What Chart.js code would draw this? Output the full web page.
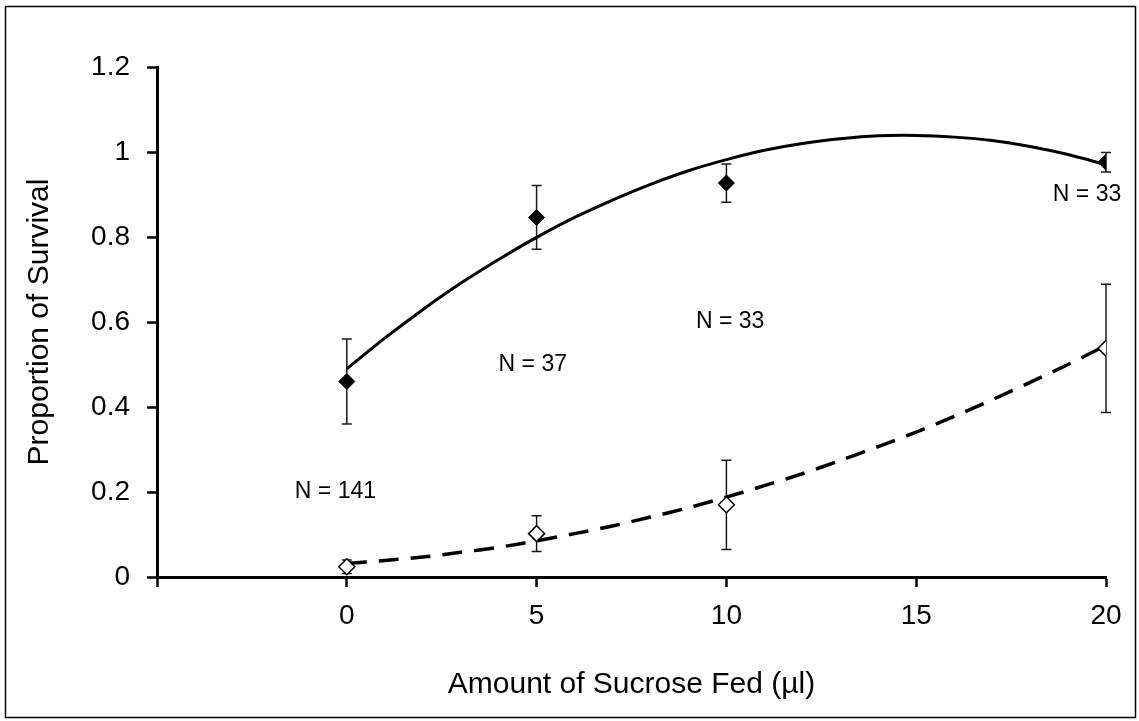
<!DOCTYPE html>
<html>
<head>
<meta charset="utf-8">
<title>Proportion of Survival</title>
<script src="https://cdn.jsdelivr.net/npm/chart.js@4"></script>
<style>
  html, body { margin: 0; padding: 0; background: #fff; }
  #wrap { width: 1139px; height: 721px; }
</style>
</head>
<body>
<div id="wrap"><canvas id="survivalChart" width="1139" height="721"></canvas></div>
<script>
// sucrose doses (µl) and survival per group
const doses = [0, 5, 10, 20];
const fedSurvival = [0.46, 0.846, 0.927, 0.976];
const fedError = [0.1, 0.075, 0.045, 0.023];
const starvedSurvival = [0.024, 0.102, 0.17, 0.538];
const starvedError = [0.016, 0.042, 0.105, 0.151];

// polynomial trendlines, sampled every 1 µl
const trendX = [0, 1, 2, 3, 4, 5, 6, 7, 8, 9, 10, 11, 12, 13, 14, 15, 16, 17, 18, 19, 20];
const fedTrend = [0.49, 0.562, 0.629, 0.691, 0.747, 0.799, 0.846, 0.887, 0.924, 0.956, 0.982,
                  1.004, 1.02, 1.031, 1.038, 1.039, 1.035, 1.027, 1.013, 0.994, 0.97];
const starvedTrend = [0.032, 0.039, 0.047, 0.058, 0.07, 0.085, 0.102, 0.12, 0.141, 0.163, 0.188,
                      0.215, 0.243, 0.274, 0.307, 0.341, 0.378, 0.417, 0.458, 0.5, 0.545];

const sampleSizes = ['N = 141', 'N = 37', 'N = 33', 'N = 33'];

const xTitle = 'Amount of Sucrose Fed (µl)';
const yTitle = 'Proportion of Survival';

const toPoints = (xs, ys) => xs.map((x, i) => ({ x: x, y: ys[i] }));

// where the N labels sit, in axis units
const sampleSpots = [[-0.3, 0.2], [4.9, 0.5], [10.1, 0.6], [19.5, 0.9]];

const errorBars = {
    id: 'errorBars',
    beforeDatasetsDraw(chart) {
        const { ctx, scales: { x, y } } = chart;
        ctx.save();
        ctx.strokeStyle = '#1a1a1a';
        ctx.lineWidth = 1.5;
        [[fedSurvival, fedError], [starvedSurvival, starvedError]].forEach(([vals, errs]) => {
            vals.forEach((v, i) => {
                const px = x.getPixelForValue(doses[i]);
                const top = y.getPixelForValue(v + errs[i]);
                const bottom = y.getPixelForValue(v - errs[i]);
                ctx.beginPath();
                ctx.moveTo(px, top);
                ctx.lineTo(px, bottom);
                ctx.moveTo(px - 5, top);
                ctx.lineTo(px + 5, top);
                ctx.moveTo(px - 5, bottom);
                ctx.lineTo(px + 5, bottom);
                ctx.stroke();
            });
        });
        ctx.restore();
    }
};

const extras = {
    id: 'extras',
    afterDraw(chart) {
        const { ctx, scales: { x, y } } = chart;
        ctx.save();
        ctx.fillStyle = '#000';
        ctx.font = "23px 'Liberation Sans', Arial, sans-serif";
        ctx.textAlign = 'center';
        ctx.textBaseline = 'middle';
        sampleSizes.forEach((text, i) => {
            ctx.fillText(text, x.getPixelForValue(sampleSpots[i][0]), y.getPixelForValue(sampleSpots[i][1]));
        });
        // frame round the whole figure
        ctx.strokeStyle = '#000';
        ctx.lineWidth = 1.5;
        ctx.strokeRect(5.5, 6.5, 1130, 711);
        ctx.restore();
    }
};

Chart.defaults.font.family = "'Liberation Sans', Arial, sans-serif";
Chart.defaults.color = '#000';

new Chart(document.getElementById('survivalChart'), {
    type: 'scatter',
    data: {
        datasets: [
            {
                data: toPoints(doses, fedSurvival),
                pointStyle: 'rectRot',
                pointRadius: 8,
                backgroundColor: '#000',
                borderColor: '#000',
                borderWidth: 1
            },
            {
                data: toPoints(doses, starvedSurvival),
                pointStyle: 'rectRot',
                pointRadius: 8,
                backgroundColor: '#fff',
                borderColor: '#000',
                borderWidth: 1.5
            },
            {
                data: toPoints(trendX, fedTrend),
                showLine: true,
                pointRadius: 0,
                borderColor: '#000',
                borderWidth: 3,
                tension: 0.3
            },
            {
                data: toPoints(trendX, starvedTrend),
                showLine: true,
                pointRadius: 0,
                borderColor: '#000',
                borderWidth: 3.5,
                borderDash: [20, 12],
                tension: 0.3
            }
        ]
    },
    options: {
        responsive: false,
        animation: false,
        layout: { padding: { top: 67, right: 33, bottom: 0, left: 0 } },
        plugins: {
            legend: { display: false },
            tooltip: { enabled: false }
        },
        scales: {
            x: {
                type: 'linear',
                min: -5,
                max: 20,
                afterFit: (scale) => { scale.height = 144; },
                border: { color: '#000', width: 3 },
                grid: { drawOnChartArea: false, tickLength: 10, tickColor: '#000', tickWidth: 2.5 },
                ticks: {
                    stepSize: 5,
                    padding: 12,
                    font: { size: 28 },
                    callback: (v) => (v < 0 ? '' : String(v))
                },
                title: { display: true, text: xTitle, font: { size: 30 }, padding: { top: 0, bottom: 18 } }
            },
            y: {
                min: 0,
                max: 1.2,
                afterFit: (scale) => { scale.width = 157; },
                border: { color: '#000', width: 3 },
                grid: { drawOnChartArea: false, tickLength: 10, tickColor: '#000', tickWidth: 2.5 },
                ticks: {
                    stepSize: 0.2,
                    padding: 17,
                    font: { size: 28 },
                    callback: (v) => String(+v.toFixed(1))
                },
                title: { display: true, text: yTitle, font: { size: 30 }, padding: { top: 22, bottom: 0 } }
            }
        }
    },
    plugins: [errorBars, extras]
});
</script>
</body>
</html>
